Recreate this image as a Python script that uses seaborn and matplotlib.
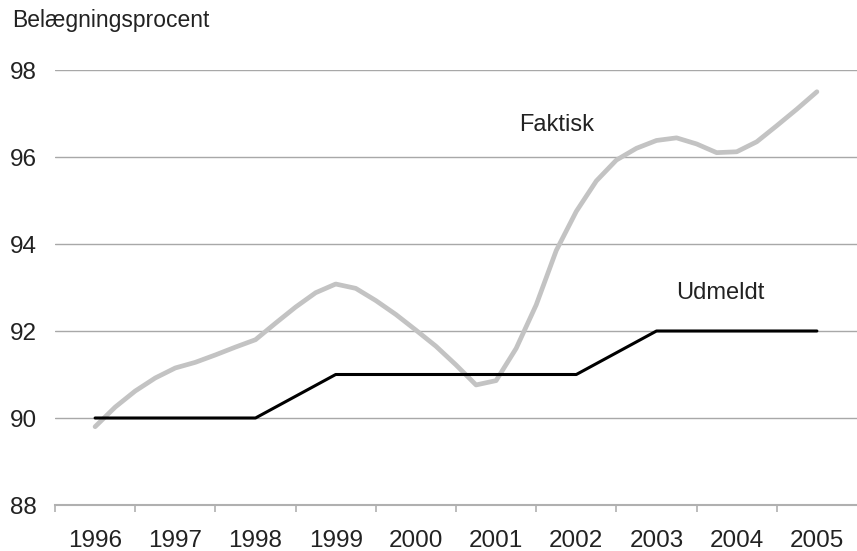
import numpy as np
import pandas as pd
import matplotlib
matplotlib.use('Agg')
import matplotlib.pyplot as plt
import seaborn as sns

# årstal (kategorier på x-aksen)
years = [1996, 1997, 1998, 1999, 2000, 2001, 2002, 2003, 2004, 2005]

# udmeldt belægningsprocent, pr. år
udmeldt = [90, 90, 90, 91, 91, 91, 91, 92, 92, 92]

# faktisk belægningsprocent, kvartalsvis fra 1996 til 2005
faktisk_tid = [1996.00, 1996.25, 1996.50, 1996.75, 1997.00, 1997.25, 1997.50, 1997.75,
               1998.00, 1998.25, 1998.50, 1998.75, 1999.00, 1999.25, 1999.50, 1999.75,
               2000.00, 2000.25, 2000.50, 2000.75, 2001.00, 2001.25, 2001.50, 2001.75,
               2002.00, 2002.25, 2002.50, 2002.75, 2003.00, 2003.25, 2003.50, 2003.75,
               2004.00, 2004.25, 2004.50, 2004.75, 2005.00]
faktisk = [89.8, 90.25, 90.62, 90.92, 91.15, 91.28, 91.45, 91.63,
           91.8, 92.18, 92.55, 92.88, 93.08, 92.98, 92.7, 92.38,
           92.02, 91.65, 91.22, 90.76, 90.86, 91.6, 92.6, 93.85,
           94.75, 95.45, 95.93, 96.2, 96.38, 96.44, 96.3, 96.1,
           96.12, 96.35, 96.72, 97.1, 97.5]

df_f = pd.DataFrame({'tid': faktisk_tid, 'pct': faktisk})
df_u = pd.DataFrame({'tid': years, 'pct': udmeldt})

sns.set_style('white')
plt.rcParams['font.family'] = ['Liberation Sans', 'DejaVu Sans']

fig = plt.figure(figsize=(8.57, 5.51), dpi=100)
ax = fig.add_axes([55 / 857, 1 - 505 / 551, 802 / 857, 435 / 551])

sns.lineplot(data=df_f, x='tid', y='pct', color='#c3c3c3', linewidth=3.4, ax=ax)
sns.lineplot(data=df_u, x='tid', y='pct', color='#000000', linewidth=2.2, ax=ax)

ax.set_xlim(years[0] - 0.5, years[-1] + 0.5)
ax.set_ylim(88, 98)
ax.set_yticks([88, 90, 92, 94, 96, 98])
ax.yaxis.grid(True, color='#a8a8a8', linewidth=1)
ax.set_axisbelow(True)

# tick-streger mellem årstal, labels midt i hvert år
ax.set_xticks([y - 0.5 for y in years])
ax.set_xticklabels([])
ax.set_xticks(years, minor=True)
ax.set_xticklabels([str(y) for y in years], minor=True)
ax.tick_params(axis='x', which='major', bottom=True, length=5, width=1.2,
               color='#b0b0b0', direction='out')
ax.tick_params(axis='x', which='minor', bottom=True, length=0, pad=18,
               labelsize=17.5, labelcolor='#222222')
ax.tick_params(axis='y', left=False, length=0, pad=13, labelsize=17.5, labelcolor='#222222')

for s in ['top', 'right', 'left']:
    ax.spines[s].set_visible(False)
ax.spines['bottom'].set_color('#b0b0b0')
ax.spines['bottom'].set_linewidth(1.5)

ax.set_xlabel('')
ax.set_ylabel('')

ax.text(2001.76, 96.74, 'Faktisk', fontsize=17, color='#222222', ha='center', va='center')
ax.text(2003.8, 92.87, 'Udmeldt', fontsize=17, color='#222222', ha='center', va='center')
fig.text(12 / 857, 1 - 20 / 551, 'Belægningsprocent', fontsize=16.5, color='#222222',
         ha='left', va='center')

plt.savefig('out.png', dpi=100)
